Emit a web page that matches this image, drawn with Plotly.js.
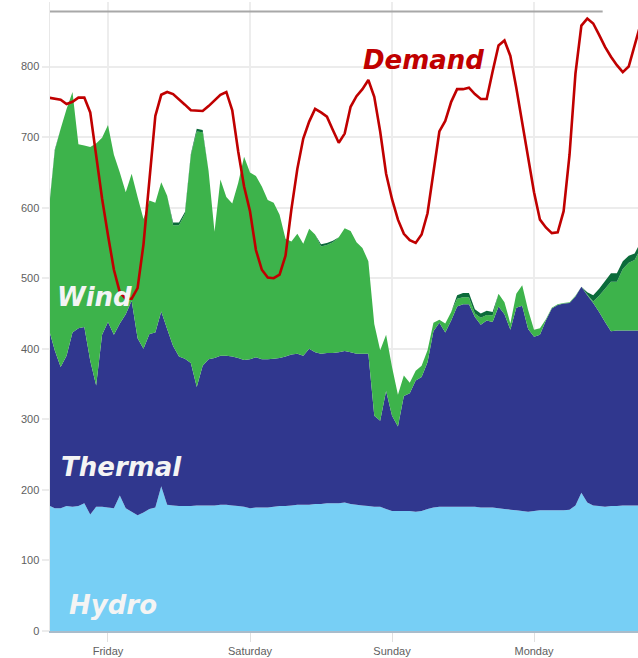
<!DOCTYPE html>
<html>
<head>
<meta charset="utf-8">
<script src="https://cdn.plot.ly/plotly-3.0.1.min.js"></script>
<style>html,body{margin:0;padding:0;background:#fff;}#chart{width:638px;height:658px;}</style>
</head>
<body>
<div id="chart"></div>
<script>
// Hours relative to Friday 00:00
var hours = [-10,-9,-8,-7,-6,-5,-4,-3,-2,-1,0,1,2,3,4,5,6,7,8,9,10,11,12,13,14,15,16,17,18,19,20,21,22,23,24,25,26,27,28,29,30,31,32,33,34,35,36,37,38,39,40,41,42,43,44,45,46,47,48,49,50,51,52,53,54,55,56,57,58,59,60,61,62,63,64,65,66,67,68,69,70,71,72,73,74,75,76,77,78,79,80,81,82,83,84,85,86,87,88,89,90];

var dayTickHours = [0, 24, 48, 72];
var dayTickLabels = ['Friday', 'Saturday', 'Sunday', 'Monday'];

var hydro = [178,174,174,177,176,177,181,165,176,176,175,174,192,174,169,164,168,173,175,205,179,178,177,177,177,178,178,178,178,179,179,178,177,176,174,175,175,175,176,177,177,178,179,179,179,180,180,181,181,181,182,180,179,178,177,176,176,173,170,170,170,170,169,170,173,175,176,176,176,176,176,176,176,175,175,175,174,173,172,171,170,169,170,171,171,171,171,171,172,178,196,182,178,177,176,177,177,178,178,178,178];

var thermal = [250,224,200,213,247,252,250,218,172,244,263,246,244,275,299,251,232,248,248,248,249,226,212,209,203,168,198,207,209,211,211,211,210,208,211,213,210,210,210,210,212,214,214,211,221,215,213,213,213,214,215,215,214,215,216,129,122,167,135,120,163,167,186,190,208,250,261,247,264,284,287,287,269,259,265,263,286,276,255,287,291,259,247,249,269,286,291,293,293,296,292,294,287,275,262,248,249,248,248,248,248];

var wind = [167,282,338,350,341,261,257,303,343,279,279,255,214,173,180,200,184,189,184,183,189,171,186,205,294,362,331,267,179,250,225,217,248,288,265,257,245,226,221,203,167,160,170,159,170,167,152,153,157,163,174,172,158,150,131,130,100,80,69,45,29,15,14,16,17,12,4,13,12,11,10,10,5,10,8,9,18,17,9,20,29,27,10,9,2,1,1,1,1,1,0,1,2,23,47,70,69,87,96,100,116];

var other = [2,2,0,0,0,0,0,0,0,0,0,0,0,0,0,0,0,0,0,0,0,4,4,3,2,4,3,0,0,0,0,0,0,0,0,0,0,0,0,0,0,0,0,0,0,0,3,3,2,0,0,0,0,0,0,0,0,0,0,0,0,0,0,0,0,0,0,0,0,5,6,6,6,6,6,5,0,0,0,0,0,0,0,0,0,0,0,0,0,0,0,3,9,10,11,12,12,11,10,9,9];

var demand = [756,755,753,747,750,756,756,735,672,613,561,512,480,471,471,486,548,640,730,760,764,761,754,746,738,737,737,744,752,760,764,738,680,630,595,540,512,501,500,505,532,598,655,698,722,740,735,729,710,692,705,743,758,768,781,757,708,648,612,583,563,554,550,562,592,647,708,723,750,768,768,770,761,754,754,793,830,837,815,770,720,672,622,583,572,564,565,595,675,790,858,868,861,845,828,814,802,792,800,830,860];

function area(name, ys, color) {
  return {x: hours, y: ys, name: name, type: 'scatter', mode: 'none',
          stackgroup: 'gen', fillcolor: color, line: {width: 0, shape: 'linear'},
          hoverinfo: 'x+y+name'};
}

var traces = [
  area('Hydro', hydro, '#77cff5'),
  area('Thermal', thermal, '#30378e'),
  area('Wind', wind, '#3db34b'),
  area('Other', other, '#0b6b3a'),
  {x: hours, y: demand, name: 'Demand', type: 'scatter', mode: 'lines',
   line: {color: '#c00000', width: 2.6}}
];

var labelFont = {family: 'DejaVu Sans', size: 26, weight: 'bold', style: 'italic', color: '#f4f4f4'};

var layout = {
  width: 638, height: 658,
  margin: {l: 50, r: 0, t: 2, b: 27, pad: 0},
  paper_bgcolor: '#ffffff', plot_bgcolor: '#ffffff',
  showlegend: false,
  font: {family: 'Liberation Sans, Arial, sans-serif', size: 11, color: '#666666'},
  xaxis: {
    range: [-9.8, 89.57], tickmode: 'array', tickvals: dayTickHours, ticktext: dayTickLabels,
    showgrid: true, gridcolor: '#ededed', gridwidth: 1.5,
    ticks: 'outside', ticklen: 9, tickcolor: '#e0e0e0', tickwidth: 1,
    showline: true, linecolor: '#a9bccb', linewidth: 2,
    zeroline: false, tickfont: {size: 11, color: '#606060'}
  },
  yaxis: {
    range: [0, 891.5], tickmode: 'array', tickvals: [0,100,200,300,400,500,600,700,800],
    showgrid: true, gridcolor: '#ececec', gridwidth: 2,
    ticks: 'outside', ticklen: 7, tickcolor: '#ececec', tickwidth: 2,
    showline: true, linecolor: '#e8e8e8', linewidth: 1.5,
    zeroline: false, tickfont: {size: 11, color: '#606060'}
  },
  shapes: [
    {type: 'line', xref: 'x', yref: 'y', x0: -9.8, x1: 83.6, y0: 878, y1: 878,
     line: {color: '#a8a8a8', width: 2}}
  ],
  annotations: [
    {x: -2.25, y: 474, xref: 'x', yref: 'y', text: 'Wind', showarrow: false, xanchor: 'center', yanchor: 'middle', font: labelFont},
    {x: 2.3, y: 233, xref: 'x', yref: 'y', text: 'Thermal', showarrow: false, xanchor: 'center', yanchor: 'middle', font: labelFont},
    {x: 0.9, y: 37, xref: 'x', yref: 'y', text: 'Hydro', showarrow: false, xanchor: 'center', yanchor: 'middle', font: labelFont},
    {x: 53.3, y: 809, xref: 'x', yref: 'y', text: 'Demand', showarrow: false, xanchor: 'center', yanchor: 'middle',
     font: {family: 'DejaVu Sans', size: 26, weight: 'bold', style: 'italic', color: '#c00000'}}
  ]
};

Plotly.newPlot('chart', traces, layout, {displayModeBar: false, staticPlot: true});
</script>
</body>
</html>
